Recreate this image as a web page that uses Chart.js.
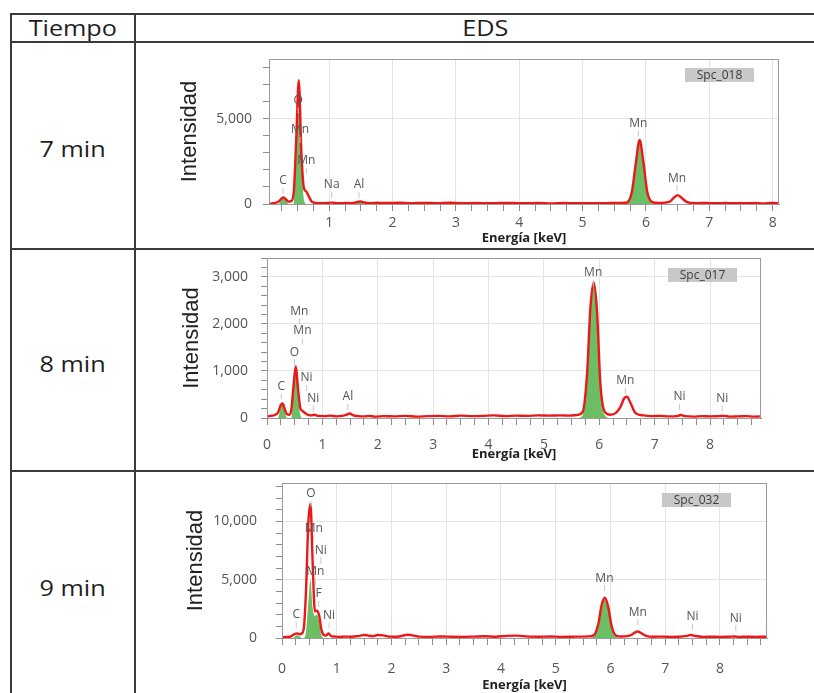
<!DOCTYPE html>
<html lang="es">
<head>
<meta charset="utf-8">
<title>EDS por tiempo</title>
<script src="https://cdn.jsdelivr.net/npm/chart.js@4.4.1/dist/chart.umd.min.js"></script>
<style>
  html, body { margin: 0; padding: 0; background: #fff; }
  body { width: 814px; height: 693px; position: relative; overflow: hidden; font-family: 'Open Sans', sans-serif; }
  .raya { position: absolute; background: #3a3a3a; }
  .celda { position: absolute; display: flex; align-items: center; justify-content: center; color: #1e1e1e; font-size: 21px; }
  .celda span { display: inline-block; transform: scaleX(1.2); }
  canvas { position: absolute; }
</style>
</head>
<body>
<!-- tabla -->
<div class="raya" style="left:10px; top:13px; width:804px; height:2px"></div>
<div class="raya" style="left:10px; top:13px; width:2px; height:680px"></div>
<div class="raya" style="left:134px; top:13px; width:2px; height:680px"></div>
<div class="raya" style="left:10px; top:41px; width:804px; height:2px"></div>
<div class="raya" style="left:10px; top:248px; width:804px; height:2px"></div>
<div class="raya" style="left:10px; top:470px; width:804px; height:2px"></div>

<div class="celda" style="left:12px; top:15px; width:122px; height:26px"><span>Tiempo</span></div>
<div class="celda" style="left:136px; top:15px; width:698px; height:26px"><span>EDS</span></div>
<div class="celda" style="left:12px; top:44px; width:122px; height:210px"><span>7 min</span></div>
<div class="celda" style="left:12px; top:250px; width:122px; height:228px"><span>8 min</span></div>
<div class="celda" style="left:12px; top:472px; width:122px; height:232px"><span>9 min</span></div>

<canvas id="eds7" width="677" height="204" style="left:137px; top:44px"></canvas>
<canvas id="eds8" width="677" height="219" style="left:137px; top:251px"></canvas>
<canvas id="eds9" width="677" height="220" style="left:137px; top:473px"></canvas>

<script>
// energías (keV), comunes a los tres espectros
const energia = [
  0.00, 0.05, 0.10, 0.15, 0.20, 0.25, 0.28, 0.32, 0.36, 0.40,
  0.44, 0.48, 0.52, 0.56, 0.60, 0.64, 0.68, 0.72, 0.76, 0.80,
  0.85, 0.90, 0.95, 1.04, 1.15, 1.25, 1.35, 1.42, 1.49, 1.56,
  1.65, 1.75, 1.85, 1.95, 2.10, 2.30, 2.50, 2.70, 2.90, 3.10,
  3.30, 3.50, 3.70, 3.90, 4.10, 4.30, 4.50, 4.70, 4.90, 5.10,
  5.30, 5.45, 5.60, 5.70, 5.78, 5.84, 5.90, 5.96, 6.02, 6.10,
  6.20, 6.30, 6.38, 6.45, 6.50, 6.56, 6.65, 6.80, 6.95, 7.10,
  7.25, 7.40, 7.47, 7.55, 7.70, 7.85, 8.00, 8.15, 8.26, 8.35,
  8.50, 8.65, 8.80, 8.90
];

// 7 min (Spc_018): cuentas medidas y área de los picos ajustados
const cuentas7 = [
  10, 20, 40, 70, 140, 330, 390, 260, 140, 170,
  650, 3800, 7250, 3100, 950, 720, 430, 160, 80, 55,
  50, 40, 55, 80, 45, 60, 50, 90, 150, 85,
  50, 70, 55, 60, 75, 45, 65, 50, 70, 45,
  60, 40, 55, 65, 40, 55, 35, 60, 45, 50,
  40, 55, 60, 90, 750, 2400, 3750, 2450, 720, 110,
  60, 80, 150, 400, 520, 370, 110, 50, 60, 40,
  55, 45, 50, 40, 55, 35, 60, 45, 50, 40,
  55, 40, 50, 45
];
const ajuste7 = [
  0, 0, 0, 0, 0, 260, 330, 190, 0, 0,
  0, 3500, 7000, 2800, 300, 0, 0, 0, 0, 0,
  0, 0, 0, 0, 0, 0, 0, 40, 100, 30,
  0, 0, 0, 0, 0, 0, 0, 0, 0, 0,
  0, 0, 0, 0, 0, 0, 0, 0, 0, 0,
  0, 0, 0, 30, 680, 2330, 3680, 2380, 650, 40,
  0, 0, 0, 0, 0, 0, 0, 0, 0, 0,
  0, 0, 0, 0, 0, 0, 0, 0, 0, 0,
  0, 0, 0, 0
];

// 8 min (Spc_017)
const cuentas8 = [
  30, 45, 50, 70, 120, 280, 310, 190, 80, 70,
  180, 700, 1100, 620, 220, 150, 110, 80, 60, 55,
  70, 50, 45, 40, 50, 35, 45, 60, 95, 55,
  40, 35, 45, 30, 40, 35, 45, 30, 40, 45,
  35, 50, 40, 45, 55, 40, 50, 45, 55, 50,
  55, 50, 65, 130, 950, 2350, 2880, 2250, 720, 130,
  70, 110, 230, 420, 450, 330, 110, 55, 40, 45,
  35, 40, 65, 40, 30, 40, 35, 40, 45, 30,
  35, 40, 30, 35
];
const ajuste8 = [
  0, 0, 0, 0, 0, 240, 280, 150, 0, 0,
  0, 650, 1050, 560, 80, 0, 0, 0, 0, 0,
  0, 0, 0, 0, 0, 0, 0, 0, 0, 0,
  0, 0, 0, 0, 0, 0, 0, 0, 0, 0,
  0, 0, 0, 0, 0, 0, 0, 0, 0, 0,
  0, 0, 0, 60, 880, 2300, 2830, 2200, 660, 60,
  0, 0, 0, 0, 0, 0, 0, 0, 0, 0,
  0, 0, 0, 0, 0, 0, 0, 0, 0, 0,
  0, 0, 0, 0
];

// 9 min (Spc_032)
const cuentas9 = [
  60, 80, 90, 110, 250, 380, 400, 320, 380, 900,
  4200, 9800, 11500, 6500, 2300, 2350, 1900, 700, 260, 200,
  380, 160, 130, 100, 120, 110, 150, 180, 260, 220,
  150, 260, 230, 120, 110, 280, 120, 100, 130, 110,
  100, 120, 150, 110, 180, 200, 120, 110, 130, 100,
  110, 120, 140, 260, 1250, 2850, 3450, 2650, 1050, 220,
  130, 160, 260, 480, 560, 430, 190, 110, 120, 100,
  110, 180, 260, 170, 100, 110, 100, 110, 130, 100,
  110, 100, 110, 100
];
const ajuste9 = [
  0, 0, 0, 0, 0, 200, 260, 150, 0, 0,
  600, 3000, 5000, 2600, 1900, 2000, 1400, 250, 0, 0,
  0, 0, 0, 0, 0, 0, 0, 0, 0, 0,
  0, 0, 0, 0, 0, 0, 0, 0, 0, 0,
  0, 0, 0, 0, 0, 0, 0, 0, 0, 0,
  0, 0, 0, 150, 1150, 2750, 3350, 2550, 950, 100,
  0, 0, 0, 0, 0, 0, 0, 0, 0, 0,
  0, 0, 0, 0, 0, 0, 0, 0, 0, 0,
  0, 0, 0, 0
];

// identificación de picos: [elemento, energía keV, altura del rótulo en cuentas]
const picos7 = [
  ['O', 0.51, 6070], ['Mn', 0.54, 4350], ['Mn', 0.64, 2530], ['C', 0.27, 1350],
  ['Na', 1.04, 1120], ['Al', 1.47, 1120], ['Mn', 5.88, 4720], ['Mn', 6.49, 1510]
];
const picos8 = [
  ['Mn', 0.585, 2265], ['Mn', 0.64, 1850], ['O', 0.495, 1400], ['Ni', 0.715, 850],
  ['Ni', 0.835, 410], ['C', 0.26, 670], ['Al', 1.46, 450], ['Mn', 5.89, 3080],
  ['Mn', 6.47, 790], ['Ni', 7.45, 450], ['Ni', 8.22, 410]
];
const picos9 = [
  ['O', 0.53, 12370], ['Mn', 0.58, 9420], ['Ni', 0.71, 7500], ['Mn', 0.61, 5700],
  ['F', 0.67, 3780], ['Ni', 0.86, 1920], ['C', 0.26, 1980], ['Mn', 5.89, 5130],
  ['Mn', 6.5, 2210], ['Ni', 7.5, 1830], ['Ni', 8.29, 1690]
];

// marcas rotuladas de los ejes
const marcasY7 = [0, 5000];
const marcasY8 = [0, 1000, 2000, 3000];
const marcasY9 = [0, 5000, 10000];

const paneles = [
  { id: 'eds7', nombre: 'Spc_018', cuentas: cuentas7, ajuste: ajuste7, picos: picos7, marcasY: marcasY7,
    xMin: 0.05, xMax: 8.1, yMax: 8500, pasoY: 1000,
    pad: { top: 15, right: 35 }, anchoY: 132, altoX: 44, sepY: 11, sepX: 4, sepTituloY: 40, sepTituloX: 2,
    caja: { derecha: 25, arriba: 9 } },
  { id: 'eds8', nombre: 'Spc_017', cuentas: cuentas8, ajuste: ajuste8, picos: picos8, marcasY: marcasY8,
    xMin: 0, xMax: 8.92, yMax: 3400, pasoY: 200,
    pad: { top: 7, right: 53 }, anchoY: 130, altoX: 52, sepY: 13, sepX: 12, sepTituloY: 42, sepTituloX: 8,
    caja: { derecha: 24, arriba: 10 } },
  { id: 'eds9', nombre: 'Spc_032', cuentas: cuentas9, ajuste: ajuste9, picos: picos9, marcasY: marcasY9,
    xMin: 0, xMax: 8.86, yMax: 13300, pasoY: 1000,
    pad: { top: 10, right: 47 }, anchoY: 145, altoX: 55, sepY: 19, sepX: 16, sepTituloY: 46, sepTituloX: 0,
    caja: { derecha: 36, arriba: 10 } }
];

Chart.defaults.font.family = "'Open Sans', sans-serif";

const pares = vals => energia.map((e, i) => ({ x: e, y: vals[i] }));

// recuadro, rótulos de picos y nombre del espectro
function decorado(p) {
  return {
    id: 'decorado',
    afterDatasetsDraw(chart) {
      const { ctx, chartArea: a, scales: { x, y } } = chart;
      ctx.save();
      ctx.strokeStyle = '#9b9b9b';
      ctx.lineWidth = 1;
      ctx.strokeRect(Math.round(a.left) + 0.5, Math.round(a.top) + 0.5,
        Math.round(a.width) - 1, Math.round(a.height));

      ctx.font = '12px "Open Sans"';
      ctx.textAlign = 'center';
      ctx.textBaseline = 'middle';
      p.picos.forEach(([el, e, h]) => {
        const px = x.getPixelForValue(e);
        const py = y.getPixelForValue(h);
        ctx.strokeStyle = '#c6c6c6';
        ctx.beginPath();
        ctx.moveTo(px, py + 7);
        ctx.lineTo(px, py + 13);
        ctx.stroke();
        ctx.fillStyle = '#555';
        ctx.fillText(el, px, py);
      });

      const w = 69, h = 14;
      const bx = a.right - p.caja.derecha - w;
      const by = a.top + p.caja.arriba;
      ctx.fillStyle = '#c8c8c8';
      ctx.fillRect(bx, by, w, h);
      ctx.fillStyle = '#3c3c3c';
      ctx.fillText(p.nombre, bx + w / 2, by + h / 2 + 0.5);
      ctx.restore();
    }
  };
}

paneles.forEach(p => {
  new Chart(document.getElementById(p.id), {
    type: 'line',
    data: {
      datasets: [
        {
          label: 'Espectro',
          data: pares(p.cuentas),
          borderColor: 'rgb(236,24,24)',
          borderWidth: 2.4,
          pointRadius: 0,
          fill: false,
          cubicInterpolationMode: 'monotone'
        },
        {
          label: 'Ajuste',
          data: pares(p.ajuste),
          borderWidth: 0,
          borderColor: 'rgba(0,0,0,0)',
          backgroundColor: 'rgb(108,190,100)',
          fill: 'origin',
          pointRadius: 0,
          cubicInterpolationMode: 'monotone'
        }
      ]
    },
    options: {
      responsive: false,
      animation: false,
      events: [],
      layout: { padding: { top: p.pad.top, right: p.pad.right, left: 0, bottom: 0 } },
      plugins: { legend: { display: false }, tooltip: { enabled: false } },
      scales: {
        x: {
          type: 'linear',
          min: p.xMin,
          max: p.xMax,
          afterFit: s => { s.height = p.altoX; },
          border: { color: '#8c8c8c' },
          grid: {
            color: c => (c.tick && Number.isInteger(c.tick.value) ? '#e3e3e3' : 'rgba(0,0,0,0)'),
            tickColor: '#8c8c8c',
            tickLength: 7
          },
          ticks: {
            stepSize: 0.25,
            includeBounds: false,
            autoSkip: false,
            maxRotation: 0,
            padding: p.sepX,
            color: '#555',
            font: { size: 14 },
            callback: v => (Number.isInteger(v) ? String(v) : '')
          },
          title: {
            display: true,
            text: 'Energía [keV]',
            color: '#222',
            font: { size: 13, weight: 'bold' },
            padding: { top: 0, bottom: p.sepTituloX }
          }
        },
        y: {
          min: 0,
          max: p.yMax,
          // ancho fijo y sin margen extra arriba/abajo por los rótulos
          afterFit: s => {
            s.width = p.anchoY;
            s.paddingTop = 0;
            s.paddingBottom = 0;
          },
          // marcas menores cada pasoY desde cero
          afterBuildTicks: s => {
            const t = [];
            for (let v = 0; v <= p.yMax; v += p.pasoY) t.push({ value: v });
            s.ticks = t;
          },
          border: { color: '#8c8c8c' },
          grid: {
            color: c => (c.tick && c.tick.value > 0 && p.marcasY.includes(c.tick.value) ? '#e3e3e3' : 'rgba(0,0,0,0)'),
            tickColor: '#8c8c8c',
            tickLength: 6
          },
          ticks: {
            autoSkip: false,
            padding: p.sepY,
            color: '#555',
            font: { size: 14 },
            callback: v => (p.marcasY.includes(v) ? v.toLocaleString('en-US') : '')
          },
          title: {
            display: true,
            text: 'Intensidad',
            color: '#222',
            font: { family: "'Liberation Sans', Arial, sans-serif", size: 22 },
            padding: { top: p.sepTituloY, bottom: 0 }
          }
        }
      }
    },
    plugins: [decorado(p)]
  });
});
</script>
</body>
</html>
